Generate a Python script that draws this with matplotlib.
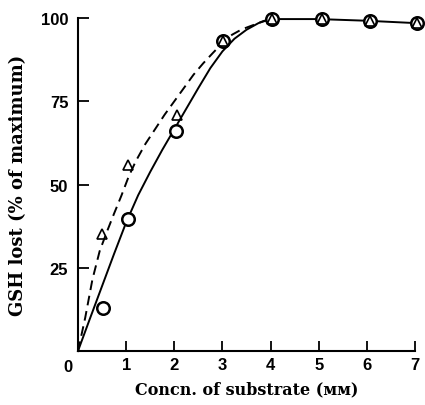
import numpy as np
import matplotlib
matplotlib.use("Agg")
import matplotlib.pyplot as plt

# measured points
circ_x = [0.52, 1.03, 2.04, 3.02, 4.04, 5.06, 6.06, 7.05]
circ_y = [13, 39.5, 66, 93.2, 99.7, 99.7, 99.2, 98.5]
tri_x = [0.5, 1.03, 2.06, 3.02, 4.04, 5.06, 6.06, 7.05]
tri_y = [35, 56, 70.8, 93.2, 99.7, 99.7, 99.2, 98.5]

# hand-drawn curves
solid_x = [0, 0.25, 0.5, 0.75, 1, 1.25, 1.5, 1.75, 2, 2.25, 2.5, 2.75, 3, 3.25, 3.5, 3.75, 4, 5, 6, 7]
solid_y = [0, 9.8, 19.5, 29.2, 38.6, 46.8, 53.8, 60.4, 66.6, 72.8, 79, 85, 90, 93.8, 96.5, 98.5, 99.7, 99.7, 99.2, 98.5]
dash_x = [0, 0.15, 0.3, 0.45, 0.6, 0.75, 0.9, 1.05, 1.2, 1.4, 1.6, 1.8, 2, 2.2, 2.4, 2.6, 2.8, 3, 3.2, 3.4, 3.64, 3.85, 4]
dash_y = [0, 10, 21.5, 30, 35.8, 41.3, 46.6, 52.3, 57, 62.2, 66.6, 71, 75, 79, 83, 86.4, 89.5, 92.5, 95, 96.6, 97.9, 99.1, 99.7]

xticks = [0, 1, 2, 3, 4, 5, 6, 7]
xtick_labels = ['', '1', '2', '3', '4', '5', '6', '7']
yticks = [25, 50, 75, 100]
ytick_labels = ['25', '50', '75', '100']

plt.rcParams['font.family'] = ['DejaVu Serif']

fig = plt.figure(figsize=(4.25, 4.06), dpi=100)
ax = fig.add_axes([0.1835, 0.133, 0.793, 0.82])

ax.plot(solid_x, solid_y, color='black', lw=1.4, clip_on=False)
ax.plot(dash_x, dash_y, color='black', lw=1.4, ls=(0, (5, 3)), clip_on=False)
ax.plot(circ_x, circ_y, 'o', ms=9, mfc='white', mec='black', mew=1.8, clip_on=False, zorder=3)
ax.plot(tri_x, tri_y, '^', ms=7.5, mfc='none', mec='black', mew=1.2, clip_on=False, zorder=4)

ax.set_xlim(0, 7)
ax.set_ylim(0, 100)
ax.spines['top'].set_visible(False)
ax.spines['right'].set_visible(False)
for s in ['left', 'bottom']:
    ax.spines[s].set_linewidth(1.5)

tick_font = dict(fontweight='bold', fontsize=12, family=['Liberation Sans', 'DejaVu Sans'])
ax.set_xticks(xticks)
ax.set_yticks(yticks)
ax.set_xticklabels(xtick_labels, **tick_font)
ax.set_yticklabels(ytick_labels, **tick_font)
ax.tick_params(axis='x', direction='in', length=7, width=1.3, pad=4)
ax.tick_params(axis='y', direction='in', length=8, width=1.3, pad=7)
# the origin's zero sits left of the corner
ax.text(-0.2, -0.025, '0', transform=ax.get_xaxis_transform(), ha='center', va='top', **tick_font)

ax.set_xlabel('Concn. of substrate (ᴍᴍ)', fontsize=11.5, fontweight='bold', labelpad=6)
ax.set_ylabel('GSH lost (% of maximum)', fontsize=13, fontweight='bold', labelpad=10)

fig.savefig('out.png', dpi=100)
